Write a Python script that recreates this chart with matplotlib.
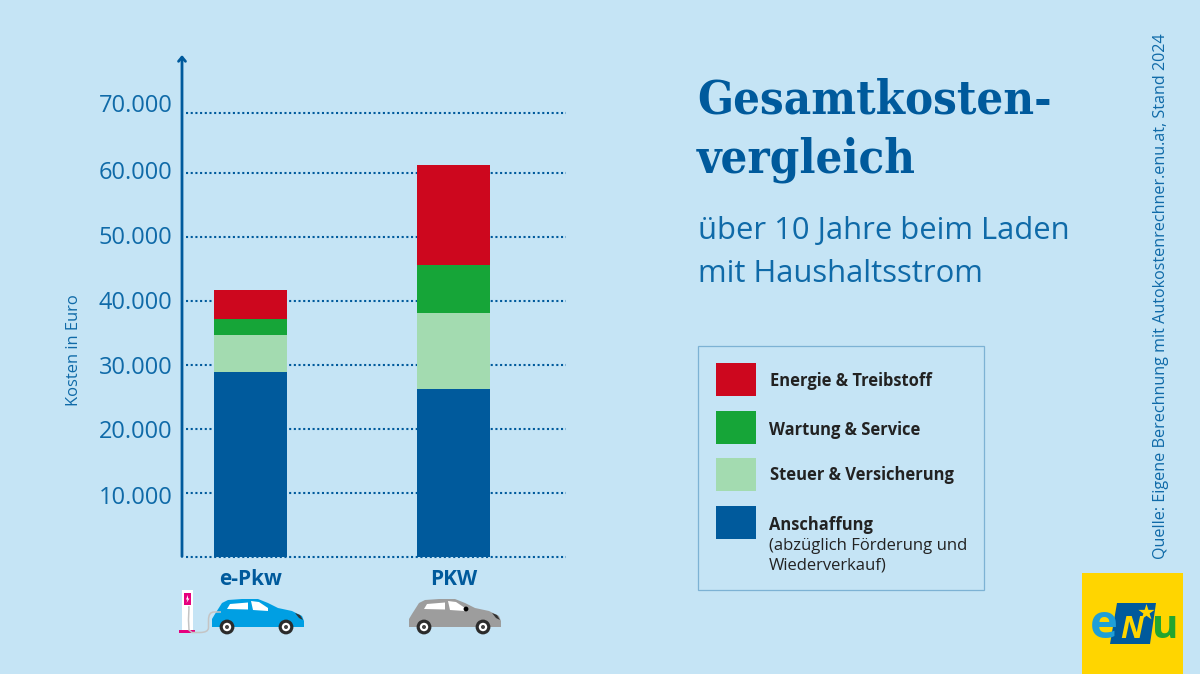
import numpy as np
import matplotlib.pyplot as plt
from matplotlib.patches import Rectangle, Polygon, Circle, PathPatch
from matplotlib.path import Path

BG = "#C5E4F5"
BLUE = "#005A9C"
TEXT_BLUE = "#0F6AA8"
DARK = "#222222"
BODY_FONT = "Open Sans"

categories = ["e-Pkw", "PKW"]
segment_names = ["Anschaffung", "Steuer & Versicherung", "Wartung & Service", "Energie & Treibstoff"]
anschaffung = [28800, 26200]
steuer = [5800, 11800]
wartung = [2500, 7600]
energie = [4500, 15600]
segment_colors = [BLUE, "#A3DBB0", "#16A538", "#CD071E"]

tick_labels = ["10.000", "20.000", "30.000", "40.000", "50.000", "60.000", "70.000"]
# the top gridline sits a bit lower than 70.000 would on this scale
grid_values = [0, 10000, 20000, 30000, 40000, 50000, 60000, 69300]
# labels do not sit exactly on their gridlines in the original
label_anchors = [9600, 19900, 29900, 40100, 50200, 60400, 70900]


def draw_car(ax, x0, color, dark_dot=False):
    y0 = 599
    verts = [(0, 27), (0, 20), (3, 15), (10, 4), (16, 1), (30, 0), (46, 0), (56, 4), (66, 9),
             (80, 12), (90, 17), (92, 22), (92, 28), (0, 28)]
    ax.add_patch(Polygon([(x0 + a, y0 + b) for a, b in verts], closed=True, fc=color, ec="none", zorder=5))
    for win in ([(15, 10), (18, 5), (36, 3.5), (36, 10.5)], [(39, 2), (47, 3), (56, 9), (56, 12), (41, 11)]):
        ax.add_patch(Polygon([(x0 + a, y0 + b) for a, b in win], closed=True, fc="white", ec="none", zorder=6))
    ax.add_patch(Polygon([(x0 + a, y0 + b) for a, b in [(83, 14), (88, 16), (91, 21), (87, 19)]],
                         closed=True, fc="#333333", ec="none", zorder=6))
    if dark_dot:
        ax.add_patch(Circle((x0 + 57, y0 + 10), 2.4, fc="black", ec="none", zorder=7))
    for wx in (15, 74):
        ax.add_patch(Circle((x0 + wx, y0 + 28), 7.4, fc="#2B2B2B", ec="none", zorder=7))
        ax.add_patch(Circle((x0 + wx, y0 + 28), 4.2, fc="white", ec="none", zorder=8))
        ax.add_patch(Circle((x0 + wx, y0 + 28), 2.0, fc="#444444", ec="none", zorder=9))


def draw_charger(ax):
    ax.add_patch(Rectangle((182, 590), 11, 40, fc="white", ec="none", zorder=5))
    ax.add_patch(Rectangle((183.5, 593), 7.5, 12, fc="#E6007E", ec="none", zorder=6))
    ax.add_patch(Polygon([(188, 595), (186, 599.5), (187.5, 599.5), (186.5, 603), (189.5, 598.5), (188, 598.5)],
                         closed=True, fc="white", ec="none", zorder=7))
    ax.add_patch(Rectangle((179, 630), 16, 3, fc="#E6007E", ec="none", zorder=6))
    cable = Path([(188, 607), (189, 607), (188.5, 620), (189, 630), (192, 632.5), (200, 632.5), (208, 632.5),
                  (208.5, 628), (208.5, 620), (208.5, 612), (214, 612), (221, 612)],
                 [Path.MOVETO, Path.LINETO, Path.LINETO, Path.LINETO, Path.LINETO, Path.LINETO, Path.CURVE3,
                  Path.CURVE3, Path.LINETO, Path.CURVE3, Path.CURVE3, Path.LINETO])
    ax.add_patch(PathPatch(cable, fc="none", ec="#C4C4C4", lw=1.1, zorder=6))


def draw_logo(ax):
    ax.add_patch(Rectangle((1082, 573), 101, 101, fc="#FFD500", ec="none", zorder=5))
    ax.add_patch(Polygon([(1117, 603), (1156, 603), (1150, 644), (1110, 644)], closed=True,
                         fc=BLUE, ec="none", zorder=6))
    ax.text(1104, 638, "e", color="#1E9FD8", fontsize=34, fontweight="bold", family="Open Sans",
            ha="center", va="baseline", zorder=7)
    ax.text(1165, 638, "u", color="#23A52F", fontsize=29, fontweight="bold", family="Open Sans",
            ha="center", va="baseline", zorder=7)
    ax.text(1132, 638, "N", color="#FFD500", fontsize=22, fontweight="bold", family="Open Sans",
            ha="center", va="baseline", style="italic", zorder=8)
    ax.scatter([1146], [612], marker="*", s=150, color="#FFD500", linewidths=0, zorder=9)


def draw_legend(ax):
    ax.add_patch(Rectangle((697.5, 345.5), 286.5, 244.5, fc="none", ec="#7DB2D4", lw=0.9, zorder=3))
    swatches = [(363, segment_colors[3]), (411, segment_colors[2]), (458, segment_colors[1]), (505.5, segment_colors[0])]
    for y, color in swatches:
        ax.add_patch(Rectangle((716, y), 40, 33, fc=color, ec="none", zorder=4))
    labels = [(770, 381, segment_names[3]), (769, 430, segment_names[2]),
              (770, 475, segment_names[1]), (769, 525, segment_names[0])]
    for x, y, name in labels:
        ax.text(x, y, name, color=DARK, fontsize=11.9, fontweight="bold", family=BODY_FONT,
                ha="left", va="center", zorder=5)
    ax.text(769, 546, "(abzüglich Förderung und", color=DARK, fontsize=12, family=BODY_FONT,
            ha="left", va="center", zorder=5)
    ax.text(769, 566, "Wiederverkauf)", color=DARK, fontsize=12, family=BODY_FONT,
            ha="left", va="center", zorder=5)


def main():
    fig = plt.figure(figsize=(12, 6.74), dpi=100, facecolor=BG)

    # chart axes, spine is drawn by hand so it can carry the arrow head
    ax = fig.add_axes([182 / 1200, 1 - 556.5 / 674, (566 - 182) / 1200, (556.5 - 55) / 674])
    ax.set_facecolor("none")
    ax.set_xlim(-0.337, 1.554)
    ax.set_ylim(0, 78360)
    for spine in ax.spines.values():
        spine.set_visible(False)

    x = np.arange(len(categories))
    bottom = np.zeros(len(categories))
    for values, color in zip([anschaffung, steuer, wartung, energie], segment_colors):
        ax.bar(x, values, width=0.36, bottom=bottom, color=color, linewidth=0, zorder=3)
        bottom += np.array(values)

    for value in grid_values:
        ax.plot([-0.315, 1.554], [value, value], color=BLUE, lw=1.5, linestyle=(0, (1, 1.25)),
                zorder=2, clip_on=False)

    ax.set_yticks(label_anchors)
    ax.set_yticklabels(tick_labels, fontsize=17, color=TEXT_BLUE, family=BODY_FONT)
    ax.tick_params(axis="y", length=0, pad=7)
    ax.set_xticks(x)
    ax.set_xticklabels(categories, fontsize=15, color=BLUE, fontweight="bold", family=BODY_FONT)
    ax.tick_params(axis="x", length=0, pad=9)

    ax.annotate("", xy=(0, 1), xycoords="axes fraction", xytext=(0, 0),
                arrowprops=dict(arrowstyle="->,head_width=0.25,head_length=0.3", color=BLUE, lw=2,
                                shrinkA=0, shrinkB=0))

    # overlay in pixel coordinates for text blocks, icons and logo
    over = fig.add_axes([0, 0, 1, 1])
    over.set_xlim(0, 1200)
    over.set_ylim(674, 0)
    over.axis("off")
    over.patch.set_alpha(0)

    over.text(74, 350, "Kosten in Euro", rotation=90, color=TEXT_BLUE, fontsize=11.9, family=BODY_FONT,
              ha="center", va="center")
    over.text(697, 100, "Gesamtkosten-", color=BLUE, fontsize=33.8, fontweight="bold", family="DejaVu Serif",
              stretch="condensed", ha="left", va="center")
    over.text(697, 160, "vergleich", color=BLUE, fontsize=33.8, fontweight="bold", family="DejaVu Serif",
              stretch="condensed", ha="left", va="center")
    over.text(698, 231, "über 10 Jahre beim Laden", color=TEXT_BLUE, fontsize=22.3, family=BODY_FONT,
              ha="left", va="center")
    over.text(698, 274, "mit Haushaltsstrom", color=TEXT_BLUE, fontsize=22.3, family=BODY_FONT,
              ha="left", va="center")
    over.text(1161, 296, "Quelle: Eigene Berechnung mit Autokostenrechner.enu.at, Stand 2024", rotation=90,
              color=TEXT_BLUE, fontsize=11.6, family=BODY_FONT, ha="center", va="center")

    draw_legend(over)
    draw_charger(over)
    draw_car(over, 212, "#009FE3")
    draw_car(over, 409, "#9D9D9D", dark_dot=True)
    draw_logo(over)

    fig.savefig("out.png", dpi=100, facecolor=BG)


if __name__ == "__main__":
    main()
